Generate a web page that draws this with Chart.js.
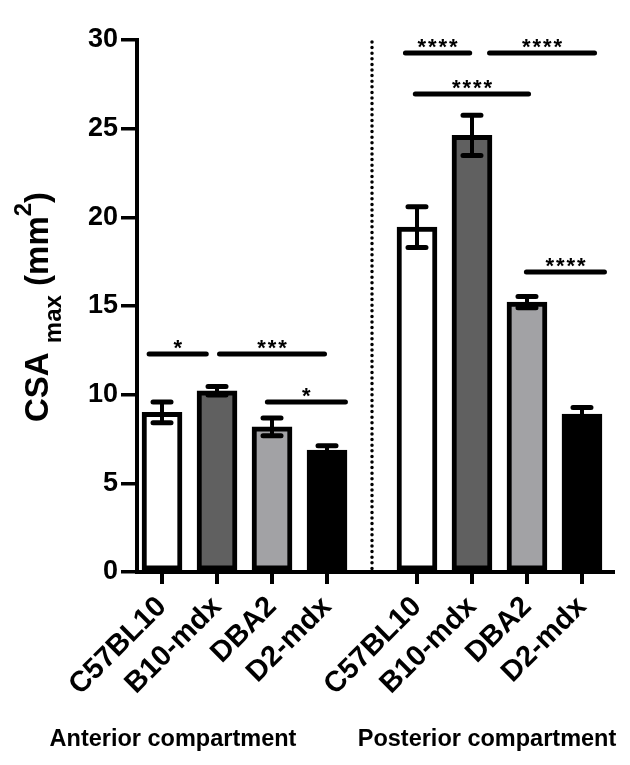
<!DOCTYPE html>
<html>
<head>
<meta charset="utf-8">
<script src="https://cdn.jsdelivr.net/npm/chart.js@4.4.1/dist/chart.umd.min.js"></script>
<style>
  html, body { margin: 0; padding: 0; background: #fff; }
  #wrap { width: 630px; height: 765px; }
</style>
</head>
<body>
<div id="wrap"><canvas id="csaChart"></canvas></div>
<script>
const strains = ['C57BL10', 'B10-mdx', 'DBA2', 'D2-mdx'];
const compartments = ['Anterior compartment', 'Posterior compartment'];
const anteriorMean = [9.0, 10.22, 8.18, 6.88];
const anteriorSem = [0.58, 0.24, 0.5, 0.24];
const posteriorMean = [19.45, 24.62, 15.22, 8.9];
const posteriorSem = [1.15, 1.13, 0.32, 0.37];
const yTicks = [0, 5, 10, 15, 20, 25, 30];

// significance lines: start / end on the x axis, height (mm2), stars
const sigFrom = [0.72, 2.0, 2.87, 5.38, 6.91, 5.56, 7.58];
const sigTo = [1.85, 4.0, 4.38, 6.64, 8.91, 7.71, 9.09];
const sigLevel = [12.3, 12.3, 9.59, 29.27, 29.27, 26.96, 16.92];
const sigLabel = ['*', '***', '*', '****', '****', '****', '****'];

const FONT = "'Liberation Sans', Arial, sans-serif";
const GROUP_GAP = 0.636;
const fills = ['#ffffff', '#606060', '#a2a2a5', '#000000'];

const labels = strains.concat(strains);
const means = anteriorMean.concat(posteriorMean);
const sems = anteriorSem.concat(posteriorSem);
const xPos = labels.map((_, i) => i + 1 + (i >= strains.length ? GROUP_GAP : 0));

const overlay = {
  id: 'overlay',
  afterDatasetsDraw(chart) {
    const { ctx, chartArea, scales: { x, y } } = chart;
    ctx.save();
    ctx.strokeStyle = '#000';
    ctx.fillStyle = '#000';

    // error bars (SEM)
    means.forEach((m, i) => {
      const px = x.getPixelForValue(xPos[i]);
      const top = y.getPixelForValue(m + sems[i]);
      const bot = y.getPixelForValue(m - sems[i]);
      ctx.lineCap = 'butt';
      ctx.lineWidth = 4;
      ctx.beginPath();
      ctx.moveTo(px, top);
      ctx.lineTo(px, bot);
      ctx.stroke();
      ctx.lineCap = 'round';
      ctx.lineWidth = 5;
      ctx.beginPath();
      ctx.moveTo(px - 9, top); ctx.lineTo(px + 9, top);
      ctx.moveTo(px - 9, bot); ctx.lineTo(px + 9, bot);
      ctx.stroke();
    });

    // dotted separator between compartments
    const sx = x.getPixelForValue((xPos[3] + xPos[4]) / 2);
    ctx.lineWidth = 3.5;
    ctx.lineCap = 'round';
    ctx.setLineDash([0, 5.6]);
    ctx.beginPath();
    ctx.moveTo(sx, chartArea.top + 2);
    ctx.lineTo(sx, chartArea.bottom);
    ctx.stroke();
    ctx.setLineDash([]);

    // significance lines
    ctx.font = 'bold 22px ' + FONT;
    ctx.textAlign = 'center';
    ctx.textBaseline = 'alphabetic';
    sigLevel.forEach((lv, i) => {
      const x0 = x.getPixelForValue(sigFrom[i]) + 2.5;
      const x1 = x.getPixelForValue(sigTo[i]) - 2.5;
      const py = y.getPixelForValue(lv);
      ctx.lineWidth = 5;
      ctx.lineCap = 'round';
      ctx.beginPath();
      ctx.moveTo(x0, py);
      ctx.lineTo(x1, py);
      ctx.stroke();
      const n = sigLabel[i].length;
      const cx = (x0 + x1) / 2;
      for (let k = 0; k < n; k++) {
        ctx.fillText('*', cx + (k - (n - 1) / 2) * 10.5, py + 1);
      }
    });

    // y axis title with subscript and superscript
    const parts = [
      { t: 'CSA ', size: 33, dy: 0 },
      { t: 'max', size: 24, dy: 13 },
      { t: ' (mm', size: 33, dy: 0 },
      { t: '2', size: 24, dy: -17 },
      { t: ')', size: 33, dy: 0 }
    ];
    ctx.save();
    ctx.translate(48, 422);
    ctx.rotate(-Math.PI / 2);
    ctx.textAlign = 'left';
    let cur = 0;
    parts.forEach(p => {
      ctx.font = 'bold ' + p.size + 'px ' + FONT;
      ctx.fillText(p.t, cur, p.dy);
      cur += ctx.measureText(p.t).width;
    });
    ctx.restore();

    // compartment labels
    ctx.font = 'bold 23.5px ' + FONT;
    ctx.textAlign = 'center';
    ctx.textBaseline = 'middle';
    ctx.fillText(compartments[0], 173, 740);
    ctx.fillText(compartments[1], 487, 740);
    ctx.restore();
  }
};

new Chart(document.getElementById('csaChart'), {
  type: 'bar',
  data: {
    datasets: [{
      data: means.map((v, i) => ({ x: xPos[i], y: v })),
      backgroundColor: labels.map((_, i) => fills[i % strains.length]),
      borderColor: '#000',
      borderWidth: 5,
      borderSkipped: false,
      barThickness: 40
    }]
  },
  options: {
    responsive: true,
    maintainAspectRatio: false,
    animation: false,
    layout: { padding: { top: 40, right: 17, left: 0, bottom: 0 } },
    plugins: { legend: { display: false }, tooltip: { enabled: false } },
    scales: {
      x: {
        type: 'linear',
        min: 0.545,
        max: 9.2,
        offset: false,
        afterFit: s => { s.height = 193; },
        afterBuildTicks: s => { s.ticks = xPos.map(v => ({ value: v })); },
        ticks: {
          autoSkip: false,
          minRotation: 45,
          maxRotation: 45,
          color: '#000',
          padding: 6,
          font: { family: FONT, weight: 'bold', size: 29 },
          callback: (v, i) => labels[i]
        },
        grid: { drawOnChartArea: false, offset: false, color: '#000', lineWidth: 4, tickLength: 12 },
        border: { color: '#000', width: 4 }
      },
      y: {
        min: 0,
        max: 30,
        afterFit: s => { s.width = 137; },
        afterBuildTicks: s => { s.ticks = yTicks.map(v => ({ value: v })); },
        ticks: {
          color: '#000',
          padding: 3,
          font: { family: FONT, weight: 'bold', size: 27 }
        },
        grid: { drawOnChartArea: false, color: '#000', lineWidth: 3.5, tickLength: 16 },
        border: { color: '#000', width: 4 }
      }
    }
  },
  plugins: [overlay]
});
</script>
</body>
</html>
